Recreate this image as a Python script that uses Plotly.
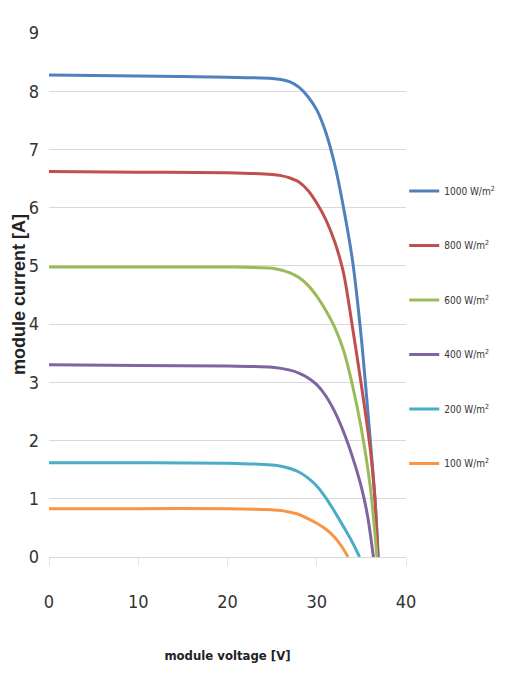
import plotly.graph_objects as go

# Irradiance series (legend labels)
series_names = ["1000 W/m<sup>2</sup>", "800 W/m<sup>2</sup>", "600 W/m<sup>2</sup>",
                "400 W/m<sup>2</sup>", "200 W/m<sup>2</sup>", "100 W/m<sup>2</sup>"]
series_colors = ["#4F81BD", "#C0504D", "#9BBB59", "#8064A2", "#4BACC6", "#F79646"]

# module voltage [V] / module current [A]
v_1000 = [0, 10, 20, 25, 26, 27, 28, 29, 30, 31, 32, 33, 34, 35, 36, 36.5, 36.9]
i_1000 = [8.28, 8.26, 8.24, 8.22, 8.2, 8.16, 8.07, 7.91, 7.68, 7.3, 6.75, 6.0, 5.1, 3.75, 2.0, 1.05, 0.0]

v_800 = [0, 10, 20, 25, 26, 27, 28, 29, 30, 31, 32, 33, 34, 35, 36, 36.5, 36.85]
i_800 = [6.62, 6.61, 6.6, 6.57, 6.55, 6.51, 6.44, 6.3, 6.08, 5.8, 5.42, 4.88, 3.95, 2.95, 1.85, 1.05, 0.0]

v_600 = [0, 10, 20, 25, 26, 27, 28, 29, 30, 31, 32, 33, 34, 35, 36, 36.75]
i_600 = [4.98, 4.98, 4.98, 4.96, 4.93, 4.88, 4.8, 4.67, 4.48, 4.24, 3.95, 3.55, 2.95, 2.2, 1.2, 0.0]

v_400 = [0, 10, 20, 25, 26, 27, 28, 29, 30, 31, 32, 33, 34, 35, 35.7, 36.35]
i_400 = [3.3, 3.29, 3.28, 3.26, 3.24, 3.21, 3.16, 3.08, 2.96, 2.77, 2.5, 2.15, 1.72, 1.2, 0.7, 0.0]

v_200 = [0, 10, 20, 25, 26, 27, 28, 29, 30, 31, 32, 33, 34, 34.8]
i_200 = [1.62, 1.62, 1.61, 1.58, 1.56, 1.52, 1.46, 1.36, 1.22, 1.02, 0.78, 0.52, 0.25, 0.0]

v_100 = [0, 10, 20, 25, 26, 27, 28, 29, 30, 31, 32, 32.8, 33.5]
i_100 = [0.83, 0.83, 0.83, 0.81, 0.8, 0.77, 0.73, 0.66, 0.58, 0.48, 0.34, 0.18, 0.0]

voltages = [v_1000, v_800, v_600, v_400, v_200, v_100]
currents = [i_1000, i_800, i_600, i_400, i_200, i_100]

x_ticks = [0, 10, 20, 30, 40]
y_ticks = [0, 1, 2, 3, 4, 5, 6, 7, 8, 9]

x_title = "module voltage [V]"
y_title = "module current [A]"

narrow = "DejaVu Sans Condensed, Liberation Sans Narrow, Liberation Sans, sans-serif"

fig = go.Figure()
for k, (name, col, v, i) in enumerate(zip(series_names, series_colors, voltages, currents)):
    fig.add_trace(go.Scatter(
        x=v, y=i, mode="lines", name=name, legendgroup=f"g{k}",
        line=dict(color=col, width=3, shape="spline", smoothing=0.8),
    ))

# the page adds an 8px body margin, so the figure is drawn 8px smaller
fig.update_layout(
    width=498, height=673,
    margin=dict(l=41, r=100, t=25, b=124, autoexpand=False),
    paper_bgcolor="white", plot_bgcolor="white",
    font=dict(family=narrow, color="#333333"),
    showlegend=True,
    legend=dict(
        x=0.995, xanchor="left", y=0.726, yanchor="top",
        font=dict(family=narrow, size=10, color="#333333"),
        tracegroupgap=35.5, bgcolor="rgba(0,0,0,0)", itemwidth=30,
    ),
    xaxis=dict(
        range=[0, 40], tickvals=x_ticks, showgrid=False, zeroline=False, showline=False,
        automargin=False,
        ticks="outside", ticklen=8, tickcolor="#e3e3e3", ticklabelstandoff=20,
        tickfont=dict(family=narrow, size=18, color="#333333"),
        title=dict(text=f"<b>{x_title}</b>", standoff=40,
                   font=dict(family=narrow, size=13, color="#222222")),
    ),
    yaxis=dict(
        range=[0, 9], tickvals=y_ticks, showgrid=True, gridcolor="#d9d9d9", gridwidth=1,
        zeroline=True, zerolinecolor="#d9d9d9", zerolinewidth=1, showline=False,
        automargin=False,
        ticks="", ticklabelstandoff=9,
        tickfont=dict(family=narrow, size=18, color="#333333"),
    ),
    annotations=[dict(
        text=f"<b>{y_title}</b>", textangle=-90, showarrow=False,
        xref="paper", yref="paper", x=-0.084, y=0.5, xanchor="center", yanchor="middle",
        font=dict(family="Liberation Sans, Arial, sans-serif", size=18, color="#222222"),
    )],
)

fig.write_html("out.html")
